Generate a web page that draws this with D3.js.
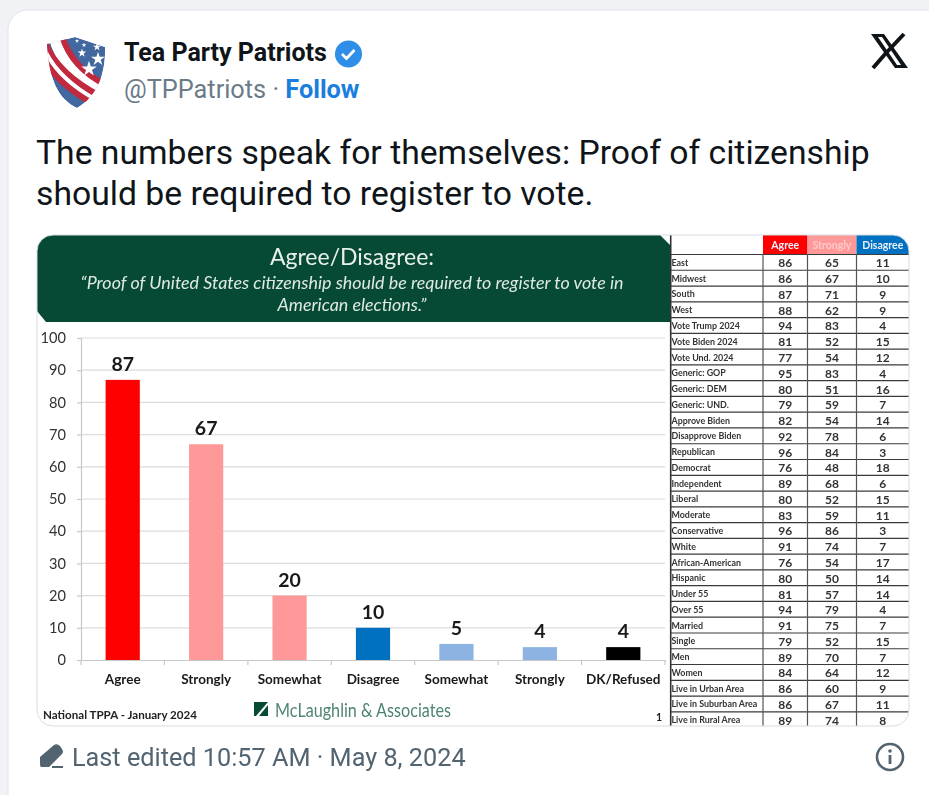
<!DOCTYPE html>
<html>
<head>
<meta charset="utf-8">
<script src="https://cdn.jsdelivr.net/npm/d3@7"></script>
<style>
  html, body { margin: 0; padding: 0; background: #f0f2f5; overflow: hidden; }
  svg { display: block; }
  .axis-y text { font: 14.6px Lato; fill: #333; }
  .axis-x text { font: bold 13.5px Lato; fill: #1a1a1a; }
  .tweet { font-family: Roboto; }
  .cell { font: bold 12px Lato; fill: #333; text-anchor: middle; }
  .rowname { font: bold 8.9px Lato; fill: #333; }
  .head { font: bold 10.5px Lato; text-anchor: middle; }
</style>
</head>
<body>
<script>
const width = 929;
const height = 795;

const categories = ["Agree", "Strongly", "Somewhat", "Disagree", "Somewhat", "Strongly", "DK/Refused"];
const values = [87, 67, 20, 10, 5, 4, 4];
const barColors = ["#ff0000", "#ff9999", "#ff9999", "#0070c0", "#8db3e2", "#8db3e2", "#000000"];
const yTicks = [0, 10, 20, 30, 40, 50, 60, 70, 80, 90, 100];

const rowLabels = ["East", "Midwest", "South", "West", "Vote Trump 2024", "Vote Biden 2024", "Vote Und. 2024",
  "Generic: GOP", "Generic: DEM", "Generic: UND.", "Approve Biden", "Disapprove Biden", "Republican", "Democrat",
  "Independent", "Liberal", "Moderate", "Conservative", "White", "African-American", "Hispanic", "Under 55",
  "Over 55", "Married", "Single", "Men", "Women", "Live in Urban Area", "Live in Suburban Area", "Live in Rural Area"];
const agreeCol = [86, 86, 87, 88, 94, 81, 77, 95, 80, 79, 82, 92, 96, 76, 89, 80, 83, 96, 91, 76, 80, 81, 94, 91, 79, 89, 84, 86, 86, 89];
const stronglyCol = [65, 67, 71, 62, 83, 52, 54, 83, 51, 59, 54, 78, 84, 48, 68, 52, 59, 86, 74, 54, 50, 57, 79, 75, 52, 70, 64, 60, 67, 74];
const disagreeCol = [11, 10, 9, 9, 4, 15, 12, 4, 16, 7, 14, 6, 3, 18, 6, 15, 11, 3, 7, 17, 14, 14, 4, 7, 15, 7, 12, 9, 11, 8];
const tableHeads = ["Agree", "Strongly", "Disagree"];
const headColors = ["#ff0000", "#ff9999", "#0070c0"];

const svg = d3.select("body").append("svg")
  .attr("width", width)
  .attr("height", height);

// tweet card
svg.append("rect")
  .attr("x", 8).attr("y", 10)
  .attr("width", 960).attr("height", 810)
  .attr("rx", 20)
  .attr("fill", "#fff")
  .attr("stroke", "#e1e4ec");

// avatar shield
const logo = svg.append("g").style("filter", "blur(0.4px)");
const shield = "M47,44 L75,37 L105,47 C106,75 96,97 77,108 C58,99 49,80 47,44 Z";
const defs = svg.append("defs");
defs.append("clipPath").attr("id", "shieldClip").append("path").attr("d", shield);
const logoIn = logo.append("g").attr("clip-path", "url(#shieldClip)");
logoIn.append("path").attr("d", shield).attr("fill", "#41689f");
const stripes = [
  ["M54,36 Q62,72 104,92", "#fff", 11],
  ["M62,36 Q72,68 106,85", "#c12a3e", 6],
  ["M45,43 Q58,74 100,96", "#c12a3e", 6],
  ["M44,51 Q58,80 96,101", "#fff", 6],
  ["M44,59 Q58,84 92,103", "#c12a3e", 6]
];
logoIn.selectAll("path.stripe")
  .data(stripes)
  .enter().append("path").attr("class", "stripe")
  .attr("d", d => d[0]).attr("fill", "none")
  .attr("stroke", d => d[1]).attr("stroke-width", d => d[2]);
logo.selectAll("path.star")
  .data([[98, 59, 4.5], [89, 69, 5], [82, 53, 2.8], [97, 47, 2.6], [84, 45, 1.6], [77, 41, 1.4]])
  .enter().append("path").attr("class", "star")
  .attr("d", d => d3.symbol(d3.symbolStar, d[2] * d[2] * 3)())
  .attr("transform", d => `translate(${d[0]},${d[1]})`)
  .attr("fill", "#fff");

// tweet header
svg.append("text").attr("class", "tweet").attr("x", 124).attr("y", 61)
  .attr("font-size", 25).attr("font-weight", 700).attr("fill", "#0f1419").text("Tea Party Patriots");
svg.append("path")
  .attr("d", d3.symbol(d3.symbolCircle, 575)())
  .attr("transform", "translate(348.5,54)").attr("fill", "#2f8fe8");
svg.append("path")
  .attr("d", "M342,54 L346.5,58.5 L354.5,50").attr("fill", "none").attr("stroke", "#fff").attr("stroke-width", 2.8);
const handle = svg.append("text").attr("class", "tweet").attr("x", 124).attr("y", 98).attr("font-size", 25.3);
handle.append("tspan").attr("fill", "#6b7b88").text("@TPPatriots · ");
handle.append("tspan").attr("fill", "#1a7ee0").attr("font-weight", 700).text("Follow");

// X logo
svg.append("path")
  .attr("d", "M871,34 L884,34 L908,68 L895,68 Z M878,37 L882,37 L901,65 L897,65 Z")
  .attr("fill", "#0f1419").attr("fill-rule", "evenodd");
svg.append("path").attr("d", "M904,34 L887,52 M873,68 L886,53").attr("stroke", "#0f1419").attr("stroke-width", 4);

svg.selectAll("text.body")
  .data(["The numbers speak for themselves: Proof of citizenship", "should be required to register to vote."])
  .enter().append("text").attr("class", "tweet body")
  .attr("x", 36).attr("y", (d, i) => 164 + i * 41)
  .attr("font-size", 33.7).attr("fill", "#0f1419").text(d => d);

// media frame
defs.append("clipPath").attr("id", "frameClip")
  .append("rect").attr("x", 37).attr("y", 235).attr("width", 872).attr("height", 491).attr("rx", 16);
const media = svg.append("g").attr("clip-path", "url(#frameClip)").style("filter", "blur(0.4px)");

// slide header
media.append("path")
  .attr("d", "M37,235 L660,235 L670,245 L670,322 L46,322 L37,311 Z")
  .attr("fill", "#064a35");
media.append("text").attr("x", 352).attr("y", 265).attr("text-anchor", "middle")
  .attr("font-family", "Lato").attr("font-size", 23).attr("fill", "#e8f0ec").text("Agree/Disagree:");
media.selectAll("text.quote")
  .data(["\u201CProof of United States citizenship should be required to register to vote in", "American elections.\u201D"])
  .enter().append("text").attr("class", "quote")
  .attr("x", 352).attr("y", (d, i) => 289 + i * 22).attr("text-anchor", "middle")
  .attr("font-family", "Lato").attr("font-style", "italic").attr("font-size", 17.9).attr("fill", "#dfe9e4").text(d => d);

// bar chart
const x = d3.scaleBand().domain(d3.range(categories.length)).range([81, 665]).paddingInner(0.59).paddingOuter(0.295);
const xBand = d3.scaleBand().domain(d3.range(categories.length)).range([81, 665]);
const y = d3.scaleLinear().domain([0, 100]).range([660, 338]);

media.append("g").selectAll("line")
  .data(yTicks.slice(1))
  .enter().append("line")
  .attr("x1", 81).attr("x2", 665)
  .attr("y1", d => y(d)).attr("y2", d => y(d))
  .attr("stroke", "#dcdcdc").attr("stroke-width", 1.2);

const yAxis = media.append("g").attr("class", "axis-y")
  .attr("transform", "translate(81,0)")
  .call(d3.axisLeft(y).tickValues(yTicks).tickSize(4).tickPadding(11));
yAxis.selectAll("path,line").attr("stroke", "#c8c8c8").attr("stroke-width", 1.2);

const xAxis = media.append("g").attr("class", "axis-x")
  .attr("transform", "translate(0,660)")
  .call(d3.axisBottom(xBand).tickFormat(i => categories[i]).tickSize(0).tickPadding(14));
xAxis.select("path").attr("stroke", "#c8c8c8").attr("stroke-width", 1.2);
xAxis.selectAll("line.sep")
  .data(d3.range(categories.length + 1))
  .enter().append("line").attr("class", "sep")
  .attr("x1", i => 81 + i * xBand.step()).attr("x2", i => 81 + i * xBand.step())
  .attr("y1", 0).attr("y2", 5)
  .attr("stroke", "#c8c8c8").attr("stroke-width", 1.2);

media.selectAll("rect.bar")
  .data(values)
  .enter().append("rect").attr("class", "bar")
  .attr("x", (d, i) => x(i))
  .attr("y", d => y(d))
  .attr("width", x.bandwidth())
  .attr("height", d => y(0) - y(d))
  .attr("fill", (d, i) => barColors[i]);

media.selectAll("text.val")
  .data(values)
  .enter().append("text").attr("class", "val")
  .attr("x", (d, i) => x(i) + x.bandwidth() / 2)
  .attr("y", d => y(d) - 9)
  .attr("text-anchor", "middle")
  .attr("font-family", "Lato").attr("font-weight", 700).attr("font-size", 19.5).attr("fill", "#1a1a1a")
  .text(d => d);

// slide footer
media.append("text").attr("x", 43).attr("y", 719)
  .attr("font-family", "Lato").attr("font-weight", 700).attr("font-size", 11.6).attr("fill", "#222")
  .text("National TPPA - January 2024");
media.append("rect").attr("x", 254).attr("y", 702).attr("width", 14).attr("height", 14).attr("fill", "#064a35");
media.append("path").attr("d", "M256,716 L268,702 L268,705 L259,716 Z").attr("fill", "#fff");
media.append("text").attr("x", 275).attr("y", 717)
  .attr("font-family", "Lato").attr("font-size", 18.5).attr("fill", "#4f8374")
  .attr("textLength", 176).attr("lengthAdjust", "spacingAndGlyphs")
  .text("McLaughlin & Associates");
media.append("text").attr("x", 656).attr("y", 721)
  .attr("font-family", "Lato").attr("font-weight", 700).attr("font-size", 10.5).attr("fill", "#222").text("1");

// table on the right
const colEdges = [763, 807.5, 856.5, 909];
const rowY = d3.scaleBand().domain(d3.range(rowLabels.length)).range([254.5, 727.6]);
const columns = [agreeCol, stronglyCol, disagreeCol];

media.append("rect").attr("x", 670).attr("y", 235).attr("width", 239).attr("height", 491).attr("fill", "#fff");
tableHeads.forEach((h, c) => {
  media.append("rect")
    .attr("x", colEdges[c]).attr("y", 235)
    .attr("width", colEdges[c + 1] - colEdges[c]).attr("height", 19.5)
    .attr("fill", headColors[c]);
  media.append("text").attr("class", "head")
    .attr("x", (colEdges[c] + colEdges[c + 1]) / 2).attr("y", 249)
    .attr("fill", c === 1 ? "#ffc9c9" : "#e8f0ff").text(h);
});
media.selectAll("line.hrow")
  .data(d3.range(rowLabels.length))
  .enter().append("line").attr("class", "hrow")
  .attr("x1", 670).attr("x2", 909)
  .attr("y1", i => rowY(i)).attr("y2", i => rowY(i))
  .attr("stroke", "#3a3a3a").attr("stroke-width", 1.2);
media.selectAll("line.vcol")
  .data(colEdges.slice(0, 3))
  .enter().append("line").attr("class", "vcol")
  .attr("x1", d => d).attr("x2", d => d)
  .attr("y1", 254).attr("y2", 726)
  .attr("stroke", "#555").attr("stroke-width", 1.2);
media.append("line").attr("x1", 670.7).attr("x2", 670.7).attr("y1", 235).attr("y2", 726)
  .attr("stroke", "#333").attr("stroke-width", 1.6);

media.selectAll("text.rowname")
  .data(rowLabels)
  .enter().append("text").attr("class", "rowname")
  .attr("x", 671.5).attr("y", (d, i) => rowY(i) + rowY.bandwidth() / 2 + 3.5)
  .text(d => d);
columns.forEach((col, c) => {
  media.selectAll("text.c" + c)
    .data(col)
    .enter().append("text").attr("class", "cell c" + c)
    .attr("x", (colEdges[c] + colEdges[c + 1]) / 2)
    .attr("y", (d, i) => rowY(i) + rowY.bandwidth() / 2 + 5)
    .text(d => d);
});

svg.append("rect").attr("x", 37).attr("y", 235).attr("width", 872).attr("height", 491).attr("rx", 16)
  .attr("fill", "none").attr("stroke", "#d5dde2");

// footer row
svg.append("path")
  .attr("d", "M40,764 L40,757 L54,745 Q57,743 60,746 L62,749 Q64,752 62,754 L49,767 L41,767 Q40,767 40,764 Z M52,766 L63,766 L63,768 L52,768 Z")
  .attr("fill", "#536471");
svg.append("text").attr("class", "tweet").attr("x", 72).attr("y", 766)
  .attr("font-size", 25.25).attr("fill", "#536471").text("Last edited 10:57 AM · May 8, 2024");
svg.append("circle").attr("cx", 890).attr("cy", 757).attr("r", 13)
  .attr("fill", "none").attr("stroke", "#536471").attr("stroke-width", 2.6);
svg.append("circle").attr("cx", 890).attr("cy", 751).attr("r", 1.8).attr("fill", "#536471");
svg.append("rect").attr("x", 888.6).attr("y", 755).attr("width", 2.8).attr("height", 9).attr("fill", "#536471");
</script>
</body>
</html>
